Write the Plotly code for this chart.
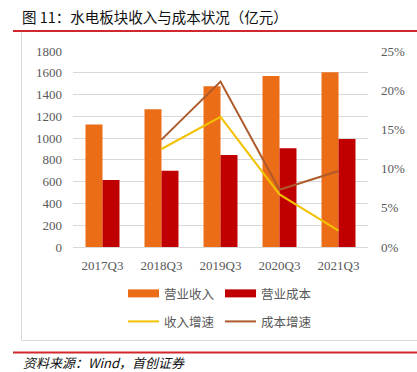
import plotly.graph_objects as go

categories = ["2017Q3", "2018Q3", "2019Q3", "2020Q3", "2021Q3"]
revenue = [1124, 1264, 1476, 1570, 1604]
cost = [615, 701, 845, 906, 992]
rev_growth = [None, 12.5, 16.6, 6.7, 2.1]
cost_growth = [None, 13.7, 21.1, 7.3, 9.7]
left_ticks = [0, 200, 400, 600, 800, 1000, 1200, 1400, 1600, 1800]
right_ticks = [0, 5, 10, 15, 20, 25]
right_labels = ["0%", "5%", "10%", "15%", "20%", "25%"]

W, H = 417, 372
L, R, T, B = 73, 368, 51, 246.7
PW, PH = R - L, B - T

def px(x):
    return (x - L) / PW

def py(y):
    return (B - y) / PH

ORANGE = "#EC6D17"
RED = "#C00000"
YELLOW = "#F2C200"
BROWN = "#AE5A2A"
GRAY = "#595959"
SERIF = "Liberation Serif, Times New Roman, serif"
CJK = "Noto Sans CJK SC, sans-serif"

fig = go.Figure()
fig.add_trace(go.Bar(x=categories, y=revenue, name="营业收入", marker=dict(color=ORANGE, line=dict(width=0))))
fig.add_trace(go.Bar(x=categories, y=cost, name="营业成本", marker=dict(color=RED, line=dict(width=0))))
fig.add_trace(go.Scatter(x=categories, y=rev_growth, name="收入增速", mode="lines",
                         line=dict(color=YELLOW, width=2), yaxis="y2"))
fig.add_trace(go.Scatter(x=categories, y=cost_growth, name="成本增速", mode="lines",
                         line=dict(color=BROWN, width=2), yaxis="y2"))

shapes = []
annotations = []
# frame lines
shapes.append(dict(type="line", xref="paper", yref="paper", x0=px(13), x1=px(417), y0=py(31), y1=py(31),
                   line=dict(color="#D0282E", width=2)))
shapes.append(dict(type="line", xref="paper", yref="paper", x0=px(21.5), x1=px(21.5), y0=py(32), y1=py(340),
                   line=dict(color="#D9D9D9", width=1)))
shapes.append(dict(type="line", xref="paper", yref="paper", x0=px(21.5), x1=px(417), y0=py(340), y1=py(340),
                   line=dict(color="#D9D9D9", width=1)))
shapes.append(dict(type="line", xref="paper", yref="paper", x0=px(13), x1=px(417), y0=py(352), y1=py(352),
                   line=dict(color="#D0282E", width=2)))

# legend (manual)
leg = [
    ("rect", ORANGE, "营业收入", 128, 293),
    ("rect", RED, "营业成本", 225, 293),
    ("line", YELLOW, "收入增速", 128, 321),
    ("line", BROWN, "成本增速", 225, 321),
]
for kind, col, lab, x0, yc in leg:
    if kind == "rect":
        shapes.append(dict(type="rect", xref="paper", yref="paper", x0=px(x0), x1=px(x0 + 31),
                           y0=py(yc - 4), y1=py(yc + 4), fillcolor=col, line=dict(width=0)))
    else:
        shapes.append(dict(type="line", xref="paper", yref="paper", x0=px(x0), x1=px(x0 + 31),
                           y0=py(yc), y1=py(yc), line=dict(color=col, width=2)))
    annotations.append(dict(xref="paper", yref="paper", x=px(x0 + 34), y=py(yc), text=lab,
                            showarrow=False, xanchor="left", yanchor="middle",
                            font=dict(family=CJK, size=12.5, color=GRAY)))

annotations.append(dict(xref="paper", yref="paper", x=px(21), y=py(16.5), text="图 11：水电板块收入与成本状况（亿元）",
                        showarrow=False, xanchor="left", yanchor="middle", borderpad=0,
                        font=dict(family=CJK, size=14.5, color="#111111")))
annotations.append(dict(xref="paper", yref="paper", x=px(22), y=py(362), text="<i>资料来源：Wind，首创证券</i>",
                        showarrow=False, xanchor="left", yanchor="middle", borderpad=0,
                        font=dict(family=CJK, size=13, color="#111111")))

fig.update_layout(
    width=W, height=H,
    margin=dict(l=L, r=W - R, t=T, b=H - B, pad=0),
    paper_bgcolor="white", plot_bgcolor="white",
    barmode="group", bargap=0.424, bargroupgap=0,
    showlegend=False,
    shapes=shapes, annotations=annotations,
    xaxis=dict(type="category", showgrid=False, showline=True, linecolor="#D9D9D9", linewidth=1,
               tickfont=dict(family=SERIF, size=13, color=GRAY), ticks="", ticklabelstandoff=6),
    yaxis=dict(range=[0, 1800], tickvals=left_ticks, showgrid=True, gridcolor="#D9D9D9", gridwidth=1,
               zeroline=False, showline=False, ticks="", ticklabelstandoff=10,
               tickfont=dict(family=SERIF, size=13, color=GRAY)),
    yaxis2=dict(range=[0, 25], tickvals=right_ticks, ticktext=right_labels, overlaying="y", side="right",
                showgrid=False, zeroline=False, showline=False, ticks="", ticklabelstandoff=12,
                tickfont=dict(family=SERIF, size=13, color=GRAY)),
)

fig.write_html("out.html", config={"displayModeBar": False},
               post_script="document.body.style.margin='0px';document.body.style.overflow='hidden';")
